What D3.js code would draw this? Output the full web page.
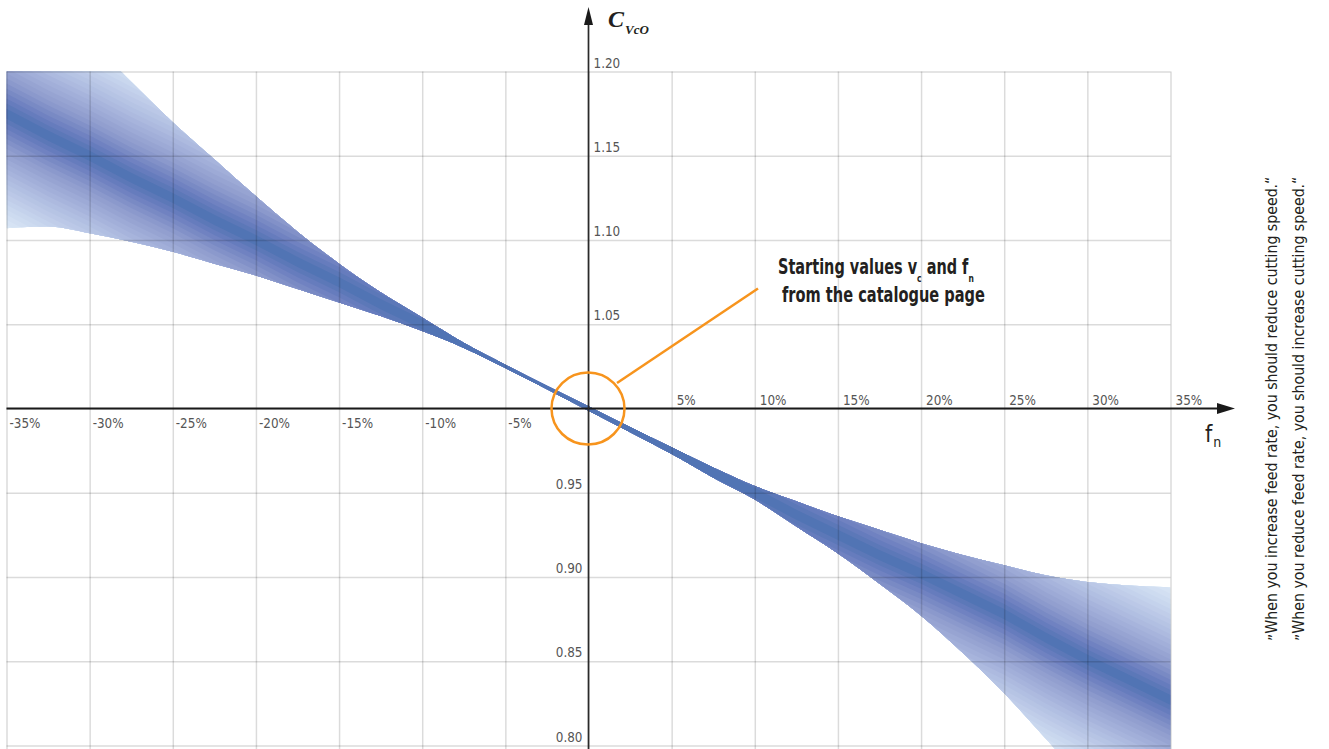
<!DOCTYPE html>
<html>
<head>
<meta charset="utf-8">
<script src="https://cdn.jsdelivr.net/npm/d3@7"></script>
<style>
  html, body { margin: 0; padding: 0; background: #fff; }
  svg { display: block; }
  .lbl { font-family: "Liberation Sans Narrow", "DejaVu Sans Condensed", "Liberation Sans", sans-serif; }
</style>
</head>
<body>
<svg id="chart" width="1329" height="749"></svg>
<script>
// ---------- data ----------
const fnTicks = [-35, -30, -25, -20, -15, -10, -5, 0, 5, 10, 15, 20, 25, 30, 35];
const cTicks = [0.80, 0.85, 0.90, 0.95, 1.00, 1.05, 1.10, 1.15, 1.20];
const fnPts = [-35, -32.5, -30, -27.5, -25, -22.5, -20, -17.5, -15, -12.5, -10, -7.5, -5, -2.5, 0,
               2.5, 5, 7.5, 10, 12.5, 15, 17.5, 20, 22.5, 25, 27.5, 30, 32.5, 35];
const centerVals = [1.175, 1.162, 1.150, 1.137, 1.125, 1.112, 1.100, 1.087, 1.075, 1.062, 1.050, 1.037, 1.025, 1.012, 1.000,
                    0.988, 0.975, 0.962, 0.950, 0.937, 0.925, 0.913, 0.902, 0.890, 0.878, 0.864, 0.851, 0.839, 0.827];
const upperVals  = [1.267, 1.243, 1.219, 1.194, 1.170, 1.148, 1.126, 1.105, 1.086, 1.069, 1.054, 1.039, 1.026, 1.0135, 1.0013,
                    0.989, 0.977, 0.965, 0.954, 0.945, 0.936, 0.928, 0.920, 0.913, 0.907, 0.901, 0.897, 0.895, 0.894];
const lowerVals  = [1.107, 1.108, 1.104, 1.099, 1.093, 1.086, 1.079, 1.071, 1.063, 1.055, 1.046, 1.036, 1.024, 1.0115, 0.9987,
                    0.986, 0.973, 0.959, 0.946, 0.930, 0.914, 0.896, 0.877, 0.855, 0.831, 0.804, 0.776, 0.747, 0.718];
const annotationLines = ["Starting values v", "c", " and f", "n", "from the catalogue page"];
const sideNotes = ["When you increase feed rate, you should reduce cutting speed.\u201C",
                   "When you reduce feed rate, you should increase cutting speed.\u201C"];

// ---------- layout ----------
const svg = d3.select("#chart");
const L = 6.5, R = 1170.5, T = 71.6, B = 749;
const x = d3.scaleLinear().domain([-35, 35]).range([L, R]);
const y = d3.scaleLinear().domain([0.80, 1.20]).range([745.5, T]);
const rows = fnPts.map((f, i) => ({ f, c: centerVals[i], u: upperVals[i], l: lowerVals[i] }));

// squeeze a text element horizontally around its anchor (imitates a condensed face)
function condense(sel, k) {
  sel.each(function () {
    const len = this.getComputedTextLength();
    d3.select(this).attr("textLength", len * k).attr("lengthAdjust", "spacingAndGlyphs");
  });
}
function fitWidth(sel, ax, ay, width) {
  const w = sel.node().getBBox().width;
  sel.attr("transform", `translate(${ax},${ay}) scale(${width / w},1)`);
}

const defs = svg.append("defs");
defs.append("clipPath").attr("id", "plotClip")
  .append("rect").attr("x", L).attr("y", T).attr("width", R - L).attr("height", B - T);
const envArea = d3.area().curve(d3.curveMonotoneX)
  .x(d => x(d.f)).y0(d => y(d.l)).y1(d => y(d.u));
defs.append("clipPath").attr("id", "envClip")
  .append("path").attr("d", envArea(rows));

// ---------- band (stripes by distance from centre line) ----------
const color = d3.scaleLinear()
  .domain([0, 0.01, 0.022, 0.038, 0.055, 0.07])
  .range(["#4670b0", "#6a7dbe", "#8e9bcd", "#abb8de", "#c6d4ed", "#dce9f6"])
  .clamp(true);
const step = 0.003;
const dists = d3.range(24, 0, -1).map(k => k * step);
dists.unshift(0.5);
const gBand = svg.append("g").attr("clip-path", "url(#plotClip)")
  .append("g").attr("clip-path", "url(#envClip)");
gBand.selectAll("path.stripe").data(dists).join("path")
  .attr("class", "stripe")
  .attr("fill", d => color(d))
  .attr("d", d => d3.area().curve(d3.curveLinear)
      .x(r => x(r.f)).y0(r => y(r.c - d)).y1(r => y(r.c + d))(rows));

// ---------- grid ----------
const gridX = svg.append("g").attr("transform", `translate(0,${B})`)
  .call(d3.axisBottom(x).tickValues(fnTicks).tickSize(-(B - T)).tickFormat(""));
const gridY = svg.append("g").attr("transform", `translate(${L},0)`)
  .call(d3.axisLeft(y).tickValues(cTicks).tickSize(-(R - L)).tickFormat(""));
[gridX, gridY].forEach(g => {
  g.select(".domain").remove();
  g.selectAll("line").attr("stroke", "#000").attr("stroke-opacity", 0.14).attr("stroke-width", 1.5);
});

// ---------- axes ----------
const x0 = x(0), y0 = y(1.0);
svg.append("line").attr("x1", L).attr("x2", 1219).attr("y1", y0).attr("y2", y0)
  .attr("stroke", "#1a1a1a").attr("stroke-width", 2);
svg.append("path").attr("d", `M1217,${y0 - 5.5}L1235,${y0}L1217,${y0 + 5.5}Z`).attr("fill", "#1a1a1a");
svg.append("line").attr("x1", x0).attr("x2", x0).attr("y1", B).attr("y2", 22)
  .attr("stroke", "#2a2a2a").attr("stroke-width", 1.7);
svg.append("path").attr("d", `M${x0 - 4.5},25L${x0},7L${x0 + 4.5},25Z`).attr("fill", "#1a1a1a");

// tick labels
const fmtX = d => d + "%";
const tk = 0.92;
svg.selectAll("text.xpos").data(fnTicks.filter(d => d > 0)).join("text")
  .attr("class", "lbl xpos").attr("x", d => x(d) + 5).attr("y", y0 - 4)
  .attr("font-size", 14.5).attr("fill", "#555").text(fmtX).call(condense, tk);
svg.selectAll("text.xneg").data(fnTicks.filter(d => d < 0)).join("text")
  .attr("class", "lbl xneg").attr("x", d => x(d) + 3).attr("y", y0 + 19)
  .attr("font-size", 14.5).attr("fill", "#555").text(fmtX).call(condense, tk);
svg.selectAll("text.ypos").data(cTicks.filter(d => d > 1)).join("text")
  .attr("class", "lbl ypos").attr("x", x0 + 5).attr("y", d => y(d) - 4)
  .attr("font-size", 14.5).attr("fill", "#555").text(d => d.toFixed(2)).call(condense, tk);
svg.selectAll("text.yneg").data(cTicks.filter(d => d < 1)).join("text")
  .attr("class", "lbl yneg").attr("x", x0 - 6).attr("y", d => y(d) - 4)
  .attr("text-anchor", "end")
  .attr("font-size", 14.5).attr("fill", "#555").text(d => d.toFixed(2)).call(condense, tk);

// axis titles
const cT = svg.append("text").attr("x", 608).attr("y", 27)
  .attr("font-family", "'Liberation Serif', 'DejaVu Serif', serif")
  .attr("font-weight", "bold").attr("font-style", "italic").attr("fill", "#231f20");
cT.append("tspan").attr("font-size", 24).text("C");
cT.append("tspan").attr("font-size", 13).attr("dy", 7).attr("dx", 1).text("VcO");

const fT = svg.append("text").attr("class", "lbl").attr("x", 1205).attr("y", 442).attr("fill", "#231f20");
fT.append("tspan").attr("font-size", 23).text("f");
fT.append("tspan").attr("font-size", 14).attr("dy", 5).attr("dx", 1).text("n");

// ---------- annotation ----------
const orange = "#f7941d";
svg.append("ellipse").attr("cx", x0 - 0.5).attr("cy", y0).attr("rx", 36.5).attr("ry", 36)
  .attr("fill", "none").attr("stroke", orange).attr("stroke-width", 2.5);
svg.append("line").attr("x1", 617).attr("y1", 383).attr("x2", 758).attr("y2", 288.5)
  .attr("stroke", orange).attr("stroke-width", 2.5);

const a1 = svg.append("text").attr("class", "lbl").attr("x", 0).attr("y", 0)
  .attr("font-weight", "bold").attr("font-size", 21).attr("fill", "#231f20");
a1.append("tspan").text(annotationLines[0]);
a1.append("tspan").attr("font-size", 11).attr("dy", 8).text(annotationLines[1]);
a1.append("tspan").attr("dy", -8).text(annotationLines[2]);
a1.append("tspan").attr("font-size", 11).attr("dy", 8).text(annotationLines[3]);
fitWidth(a1, 778, 274, 196);
const a2 = svg.append("text").attr("class", "lbl").attr("x", 0).attr("y", 0)
  .attr("font-weight", "bold").attr("font-size", 21).attr("fill", "#231f20")
  .text(annotationLines[4]);
fitWidth(a2, 782, 302, 203);

// ---------- side notes (rotated) ----------
[1277, 1304].forEach((bx, i) => {
  const t = svg.append("text").attr("class", "lbl")
    .attr("transform", `translate(${bx},641) rotate(-90)`)
    .attr("font-size", 16.5).attr("fill", "#231f20");
  t.append("tspan").attr("dy", -7).text("\u201E");
  t.append("tspan").attr("dy", 7).text(sideNotes[i]);
  const w = t.node().getBBox().width;
  t.attr("transform", `translate(${bx},641) rotate(-90) scale(${463 / w},1)`);
});
</script>
</body>
</html>
